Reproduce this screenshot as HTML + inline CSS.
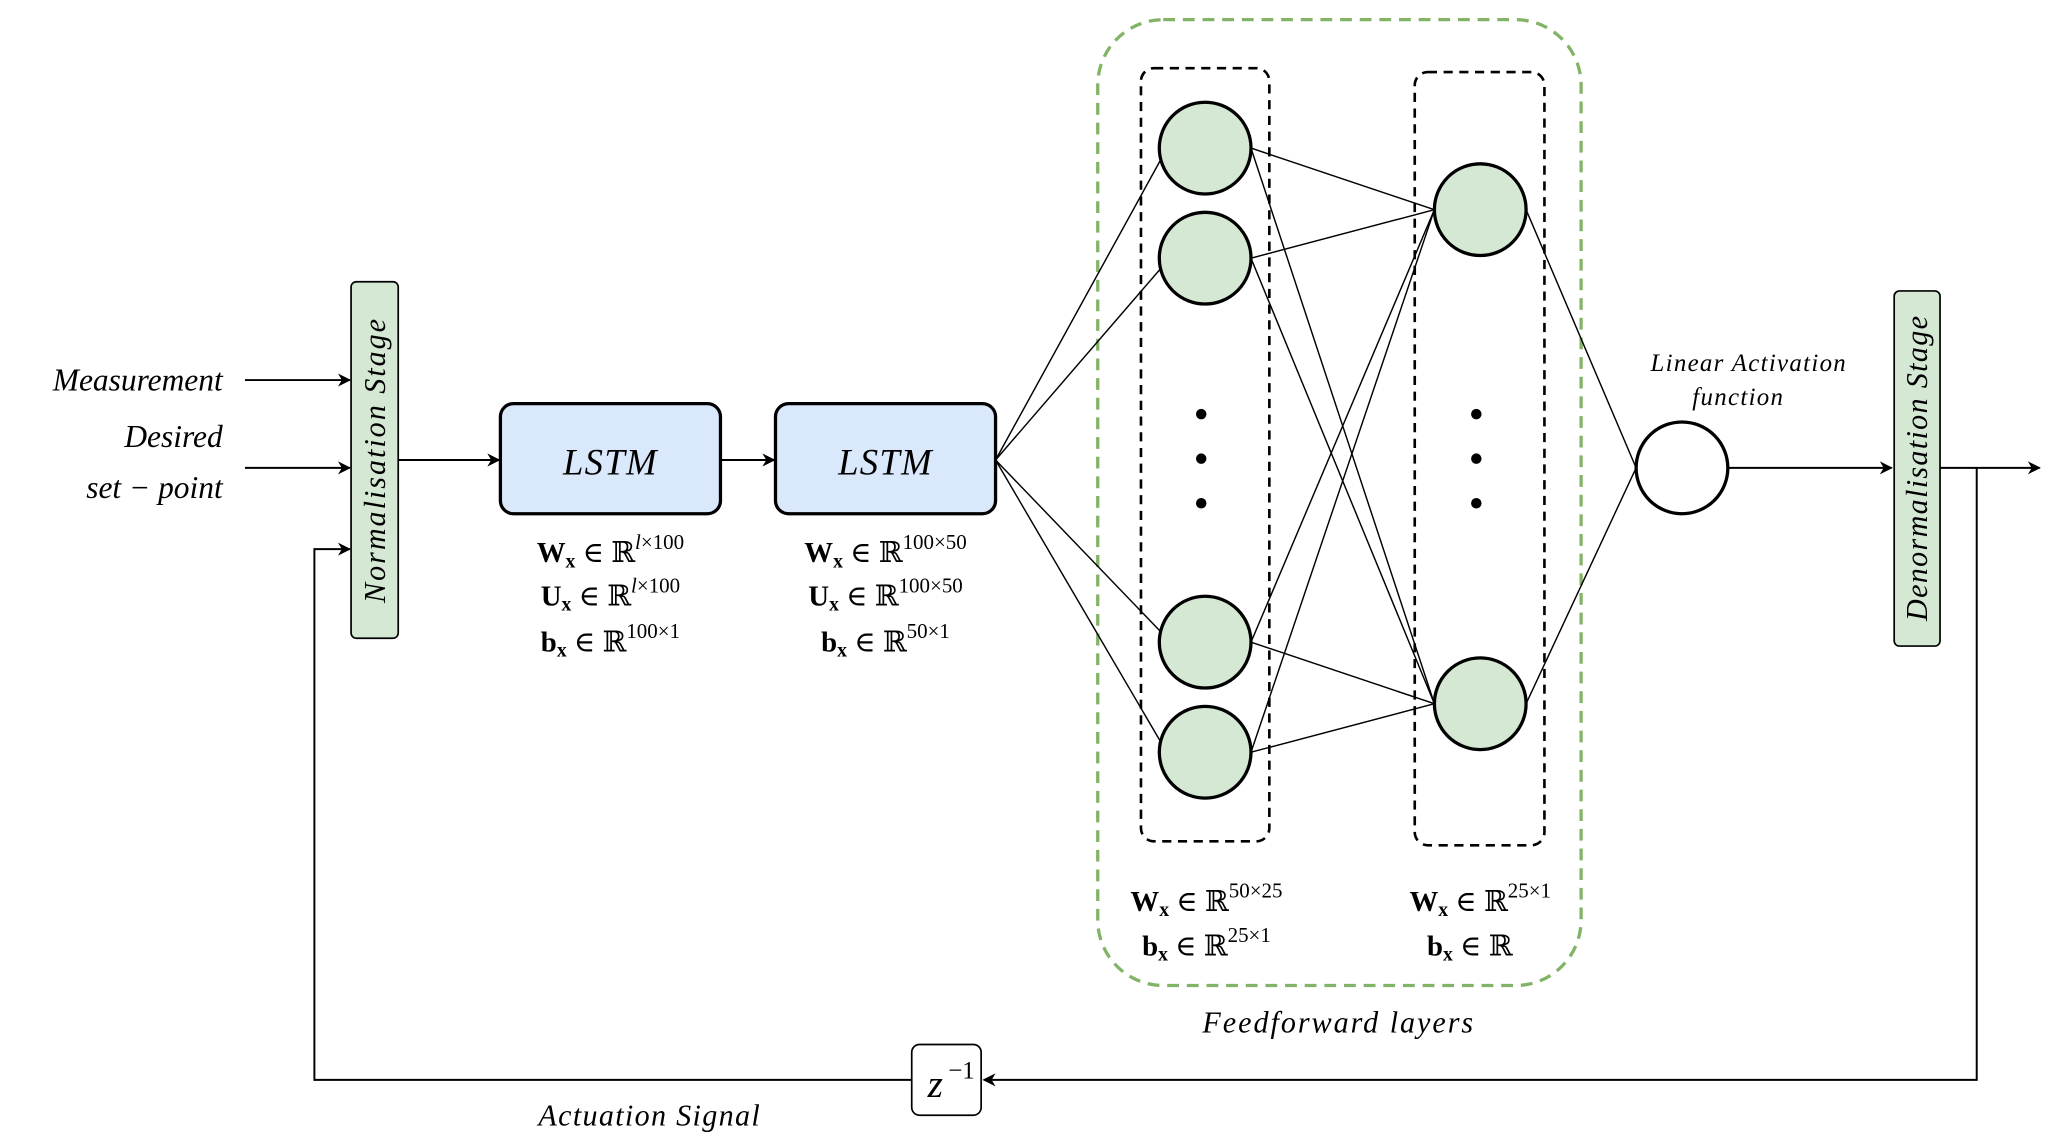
<!DOCTYPE html>
<html><head><meta charset="utf-8"><style>
html,body{margin:0;padding:0;background:#fff;}
svg{display:block;}
text{font-family:"Liberation Serif","DejaVu Serif",serif;fill:#000;}
.it{font-style:italic;}
.b{font-weight:bold;}
</style></head><body>
<svg width="2054" height="1148" viewBox="0 0 1568 876" preserveAspectRatio="none" xmlns="http://www.w3.org/2000/svg">
<defs>
<marker id="ar" markerWidth="10" markerHeight="10" refX="9" refY="5" orient="auto" markerUnits="userSpaceOnUse">
<path d="M0,0 L10,5 L0,10 L3,5 z" fill="#000"/>
</marker>
</defs>

<rect x="838" y="15" width="369" height="737" rx="50" fill="none" stroke="#82b366" stroke-width="2.5" stroke-dasharray="9,6"/>
<rect x="871" y="52" width="98" height="590" rx="10" fill="none" stroke="#000" stroke-width="2" stroke-dasharray="7,5"/>
<rect x="1080" y="55" width="99" height="590" rx="10" fill="none" stroke="#000" stroke-width="2" stroke-dasharray="7,5"/>

<text x="170" y="298" class="it" font-size="24" text-anchor="end">Measurement</text>
<text x="170" y="341" class="it" font-size="24" text-anchor="end">Desired</text>
<text x="170" y="380" class="it" font-size="24" text-anchor="end">set − point</text>
<line x1="187" y1="290" x2="267" y2="290" stroke="#000" stroke-width="1.5" marker-end="url(#ar)"/>
<line x1="187" y1="357" x2="267" y2="357" stroke="#000" stroke-width="1.5" marker-end="url(#ar)"/>

<rect x="268" y="215" width="36" height="272" rx="4" fill="#d5e8d4" stroke="#000" stroke-width="1.3"/>
<text transform="translate(294,351) rotate(-90)" class="it" font-size="23" text-anchor="middle" letter-spacing="1.5">Normalisation Stage</text>

<line x1="304" y1="351" x2="381" y2="351" stroke="#000" stroke-width="1.5" marker-end="url(#ar)"/>
<rect x="382" y="308" width="168" height="84" rx="10" fill="#dae8fc" stroke="#000" stroke-width="2.5"/>
<text x="466" y="362" class="it" font-size="28" text-anchor="middle" letter-spacing="1">LSTM</text>
<line x1="550" y1="351" x2="591" y2="351" stroke="#000" stroke-width="1.5" marker-end="url(#ar)"/>
<rect x="592" y="308" width="168" height="84" rx="10" fill="#dae8fc" stroke="#000" stroke-width="2.5"/>
<text x="676" y="362" class="it" font-size="28" text-anchor="middle" letter-spacing="1">LSTM</text>

<g font-size="22" text-anchor="middle">
<text x="466" y="429"><tspan class="b">W</tspan><tspan class="b" font-size="15" dy="4">x</tspan><tspan dy="-4"> ∈ ℝ</tspan><tspan font-size="16" dy="-10" class="it">l</tspan><tspan font-size="16">×100</tspan></text>
<text x="466" y="462"><tspan class="b">U</tspan><tspan class="b" font-size="15" dy="4">x</tspan><tspan dy="-4"> ∈ ℝ</tspan><tspan font-size="16" dy="-10" class="it">l</tspan><tspan font-size="16">×100</tspan></text>
<text x="466" y="497"><tspan class="b">b</tspan><tspan class="b" font-size="15" dy="4">x</tspan><tspan dy="-4"> ∈ ℝ</tspan><tspan font-size="16" dy="-10">100×1</tspan></text>
<text x="676" y="429"><tspan class="b">W</tspan><tspan class="b" font-size="15" dy="4">x</tspan><tspan dy="-4"> ∈ ℝ</tspan><tspan font-size="16" dy="-10">100×50</tspan></text>
<text x="676" y="462"><tspan class="b">U</tspan><tspan class="b" font-size="15" dy="4">x</tspan><tspan dy="-4"> ∈ ℝ</tspan><tspan font-size="16" dy="-10">100×50</tspan></text>
<text x="676" y="497"><tspan class="b">b</tspan><tspan class="b" font-size="15" dy="4">x</tspan><tspan dy="-4"> ∈ ℝ</tspan><tspan font-size="16" dy="-10">50×1</tspan></text>
<text x="921" y="695"><tspan class="b">W</tspan><tspan class="b" font-size="15" dy="4">x</tspan><tspan dy="-4"> ∈ ℝ</tspan><tspan font-size="16" dy="-10">50×25</tspan></text>
<text x="921" y="729"><tspan class="b">b</tspan><tspan class="b" font-size="15" dy="4">x</tspan><tspan dy="-4"> ∈ ℝ</tspan><tspan font-size="16" dy="-10">25×1</tspan></text>
<text x="1130" y="695"><tspan class="b">W</tspan><tspan class="b" font-size="15" dy="4">x</tspan><tspan dy="-4"> ∈ ℝ</tspan><tspan font-size="16" dy="-10">25×1</tspan></text>
<text x="1122" y="729"><tspan class="b">b</tspan><tspan class="b" font-size="15" dy="4">x</tspan><tspan dy="-4"> ∈ ℝ</tspan></text>
</g>

<g stroke="#000" stroke-width="1.1">
<line x1="760" y1="351" x2="886" y2="122"/>
<line x1="760" y1="351" x2="886" y2="205"/>
<line x1="760" y1="351" x2="886" y2="482"/>
<line x1="760" y1="351" x2="886" y2="566"/>
<line x1="955" y1="113" x2="1095" y2="160"/>
<line x1="955" y1="113" x2="1095" y2="537"/>
<line x1="955" y1="197" x2="1095" y2="160"/>
<line x1="955" y1="197" x2="1095" y2="537"/>
<line x1="955" y1="490" x2="1095" y2="160"/>
<line x1="955" y1="490" x2="1095" y2="537"/>
<line x1="955" y1="574" x2="1095" y2="160"/>
<line x1="955" y1="574" x2="1095" y2="537"/>
<line x1="1165" y1="160" x2="1249" y2="357"/>
<line x1="1165" y1="537" x2="1249" y2="357"/>
</g>

<g fill="#d5e8d4" stroke="#000" stroke-width="2.5">
<ellipse cx="920" cy="113" rx="35" ry="35"/>
<ellipse cx="920" cy="197" rx="35" ry="35"/>
<ellipse cx="920" cy="490" rx="35" ry="35"/>
<ellipse cx="920" cy="574" rx="35" ry="35"/>
<ellipse cx="1130" cy="160" rx="35" ry="35"/>
<ellipse cx="1130" cy="537" rx="35" ry="35"/>
</g>
<ellipse cx="1284" cy="357" rx="35" ry="35" fill="#fff" stroke="#000" stroke-width="2.5"/>
<g fill="#000">
<circle cx="917" cy="316" r="4"/><circle cx="917" cy="350" r="4"/><circle cx="917" cy="384" r="4"/>
<circle cx="1127" cy="316" r="4"/><circle cx="1127" cy="350" r="4"/><circle cx="1127" cy="384" r="4"/>
</g>

<text x="1335" y="283" class="it" font-size="19" text-anchor="middle" letter-spacing="1">Linear Activation</text>
<text x="1327" y="309" class="it" font-size="19" text-anchor="middle" letter-spacing="1">function</text>

<line x1="1319" y1="357" x2="1444" y2="357" stroke="#000" stroke-width="1.5" marker-end="url(#ar)"/>
<rect x="1446" y="222" width="35" height="271" rx="4" fill="#d5e8d4" stroke="#000" stroke-width="1.3"/>
<text transform="translate(1471,357) rotate(-90)" class="it" font-size="23" text-anchor="middle" letter-spacing="1">Denormalisation Stage</text>
<line x1="1481" y1="357" x2="1557" y2="357" stroke="#000" stroke-width="1.5" marker-end="url(#ar)"/>

<polyline points="1509,357 1509,824 751,824" fill="none" stroke="#000" stroke-width="1.5" marker-end="url(#ar)"/>
<rect x="696" y="797" width="53" height="54" rx="6" fill="#fff" stroke="#000" stroke-width="1.3"/>
<text x="714" y="837" class="it" font-size="30" text-anchor="middle">z</text>
<text x="734" y="823" font-size="19" text-anchor="middle">−1</text>
<polyline points="696,824 240,824 240,419 267,419" fill="none" stroke="#000" stroke-width="1.5" marker-end="url(#ar)"/>
<text x="496" y="859" class="it" font-size="23" text-anchor="middle" letter-spacing="1">Actuation Signal</text>

<text x="1022" y="788" class="it" font-size="23" text-anchor="middle" letter-spacing="1.5">Feedforward layers</text>
</svg>
</body></html>
